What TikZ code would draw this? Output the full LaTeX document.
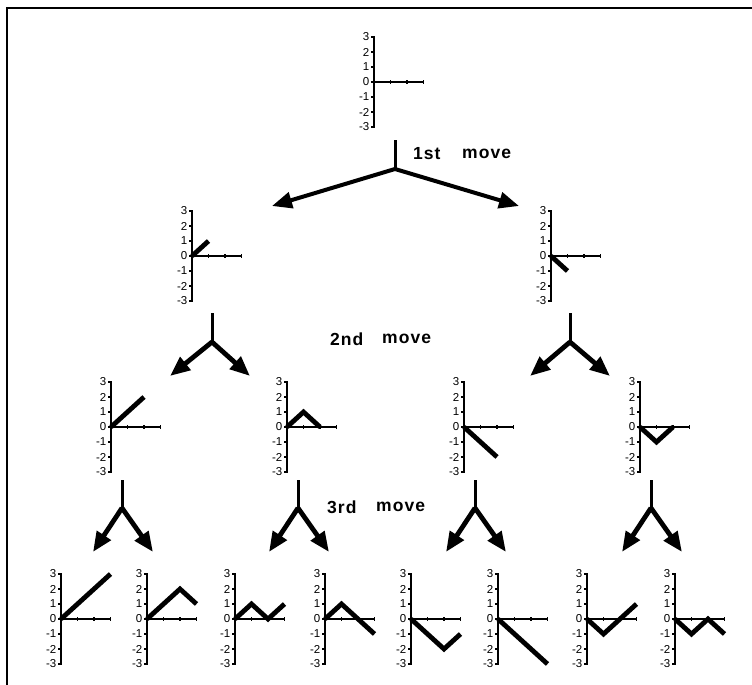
\documentclass[tikz,border=0pt]{standalone}
\usepackage{fontspec}
\setmainfont{Liberation Sans}
\newfontfamily\movefont[LetterSpace=6]{Liberation Sans}
\usetikzlibrary{arrows.meta}
\tikzset{
  axisline/.style={line width=1.3pt},
  dataline/.style={line width=4.8pt},
  ticklbl/.style={font=\fontsize{11.5}{11.5}\selectfont, anchor=east, inner sep=0pt},
  stemline/.style={line width=3pt},
  forkline/.style={line width=4.8pt, -{Triangle[length=20pt,width=16pt]}},
  movelbl/.style={font=\movefont\bfseries\fontsize{17.5}{17.5}\selectfont, anchor=west, inner sep=0pt},
  frameline/.style={line width=2pt}
}
% #1 name, #2 x of y-axis, #3 y of zero, #4 data path in unit coordinates (empty for none)
\newcommand\minigraph[4]{%
  \begin{scope}[shift={(#2,#3)}]
    \coordinate (#1) at (0,0);
    \draw[axisline] (-3,-45) -- (0,-45) -- (0,45) -- (-3,45);
    \foreach \v in {-2,...,2} \draw[axisline] (-3,-15*\v) -- (0,-15*\v);
    \draw[axisline] (0,0) -- (49.5,0);
    \foreach \u in {1,2,3} \draw[axisline] (16.5*\u,-2) -- (16.5*\u,2);
    \foreach \v/\t in {3/3,2/2,1/1,0/0,-1/-1,-2/-2,-3/-3}
      \node[ticklbl] at (-4.5,-15*\v) {\t};
    \begin{scope}[x=16.5pt,y=15pt]
      #4
    \end{scope}
  \end{scope}}
\begin{document}
\begin{tikzpicture}[x=1pt,y=-1pt]
\useasboundingbox (0,0) rectangle (752,685);
\draw[frameline] (7,685) -- (7,8) -- (752,8);

% top
\minigraph{g0}{374}{82}{}
% level 1
\minigraph{g1a}{192}{256}{\draw[dataline] (0,0) -- (1,1);}
\minigraph{g1b}{551}{256}{\draw[dataline] (0,0) -- (1,-1);}
% level 2
\minigraph{g2a}{111}{427}{\draw[dataline] (0,0) -- (1,1) -- (2,2);}
\minigraph{g2b}{287}{427}{\draw[dataline] (0,0) -- (1,1) -- (2,0);}
\minigraph{g2c}{464}{427}{\draw[dataline] (0,0) -- (1,-1) -- (2,-2);}
\minigraph{g2d}{640}{427}{\draw[dataline] (0,0) -- (1,-1) -- (2,0);}
% level 3
\minigraph{g3a}{61}{619}{\draw[dataline] (0,0) -- (1,1) -- (2,2) -- (3,3);}
\minigraph{g3b}{147}{619}{\draw[dataline] (0,0) -- (1,1) -- (2,2) -- (3,1);}
\minigraph{g3c}{235}{619}{\draw[dataline] (0,0) -- (1,1) -- (2,0) -- (3,1);}
\minigraph{g3d}{325}{619}{\draw[dataline] (0,0) -- (1,1) -- (2,0) -- (3,-1);}
\minigraph{g3e}{411}{619}{\draw[dataline] (0,0) -- (1,-1) -- (2,-2) -- (3,-1);}
\minigraph{g3f}{498}{619}{\draw[dataline] (0,0) -- (1,-1) -- (2,-2) -- (3,-3);}
\minigraph{g3g}{587}{619}{\draw[dataline] (0,0) -- (1,-1) -- (2,0) -- (3,1);}
\minigraph{g3h}{675}{619}{\draw[dataline] (0,0) -- (1,-1) -- (2,0) -- (3,-1);}

% forks
\coordinate (f1t) at (395,140); \coordinate (f1m) at (395,169);
\coordinate (f1l) at (272,206); \coordinate (f1r) at (519,206);
\draw[stemline] (f1t) -- (f1m);
\draw[forkline,line width=4pt] (f1m) -- (f1l);
\draw[forkline,line width=4pt] (f1m) -- (f1r);

\foreach \n/\sx/\lx/\rx in {a/212/170/250, b/570/530/610}{
  \coordinate (s\n t) at (\sx,313); \coordinate (s\n m) at (\sx,342);
  \coordinate (s\n l) at (\lx,376); \coordinate (s\n r) at (\rx,376);
  \draw[stemline] (s\n t) -- (s\n m);
  \draw[forkline] (s\n m) -- (s\n l);
  \draw[forkline] (s\n m) -- (s\n r);
}
\foreach \n/\sx in {a/122, b/298, c/475, d/651}{
  \coordinate (t\n t) at (\sx,480); \coordinate (t\n m) at (\sx,508);
  \coordinate (t\n l) at (\sx-29,552); \coordinate (t\n r) at (\sx+31,552);
  \draw[stemline] (t\n t) -- (t\n m);
  \draw[forkline] (t\n m) -- (t\n l);
  \draw[forkline] (t\n m) -- (t\n r);
}

\node[movelbl] (m1a) at (413,154) {1st};
\node[movelbl] (m1b) at (462,154) {move};
\node[movelbl] (m2a) at (330,339) {2nd};
\node[movelbl] (m2b) at (382,339) {move};
\node[movelbl] (m3a) at (327,507) {3rd};
\node[movelbl] (m3b) at (376,507) {move};
\end{tikzpicture}
\end{document}
